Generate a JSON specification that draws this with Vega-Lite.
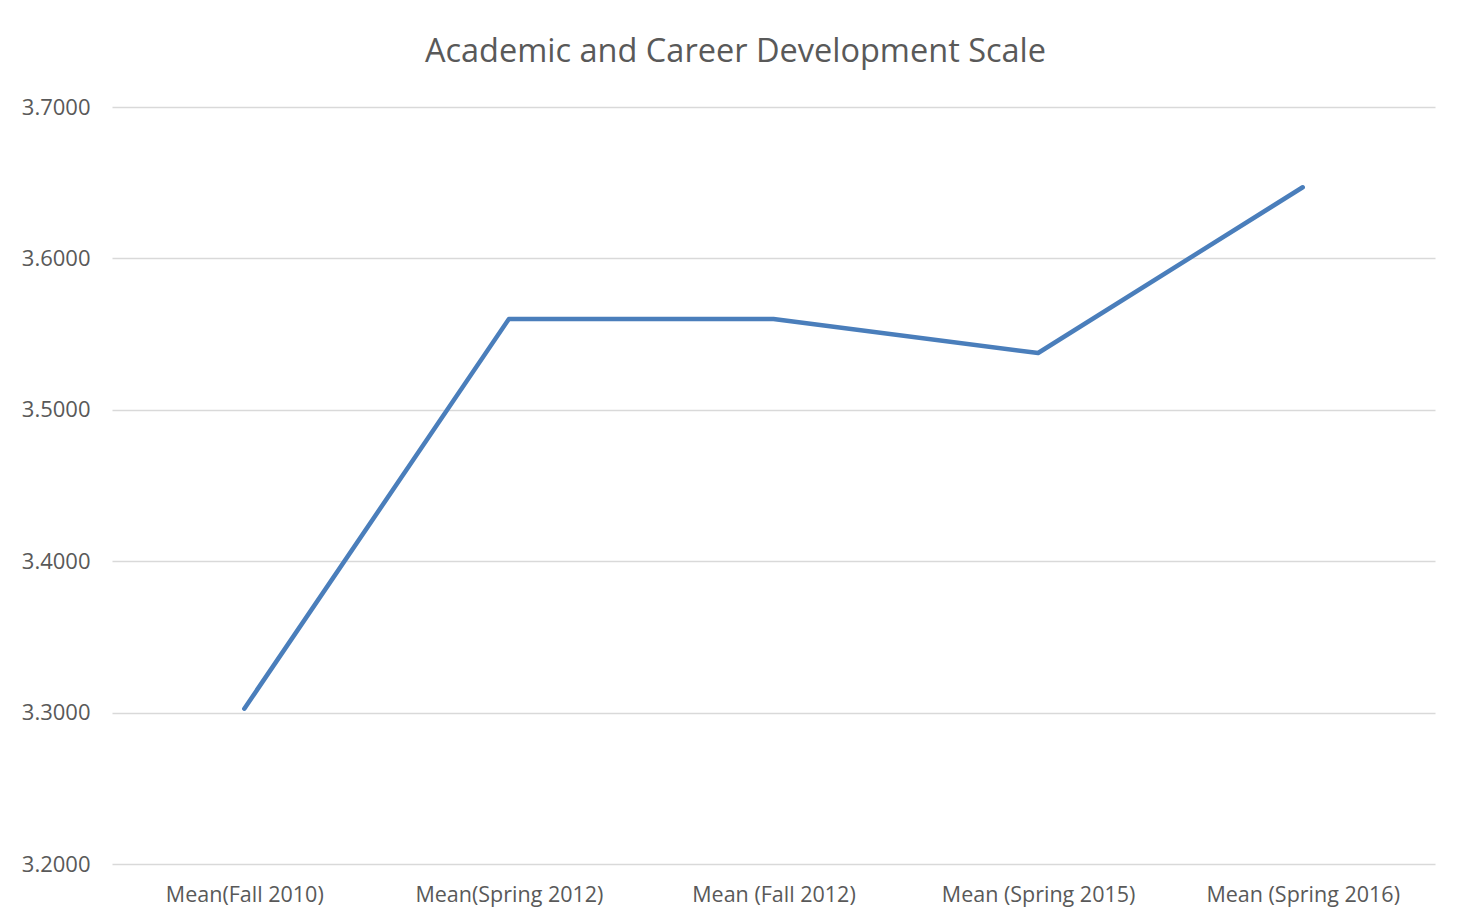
{
  "$schema": "https://vega.github.io/schema/vega-lite/v6.json",
  "width": 1323,
  "height": 757,
  "autosize": {"type": "none"},
  "padding": {"left": 112, "top": 107, "right": 37, "bottom": 56},
  "background": "white",
  "title": {
    "text": "Academic and Career Development Scale",
    "font": "Open Sans",
    "fontSize": 32.5,
    "fontWeight": "normal",
    "color": "#595959",
    "anchor": "middle",
    "dx": -38,
    "offset": 28
  },
  "data": {
    "values": [
      {"period": "Mean(Fall 2010)", "mean": 3.3026},
      {"period": "Mean(Spring 2012)", "mean": 3.5600},
      {"period": "Mean (Fall 2012)", "mean": 3.5600},
      {"period": "Mean (Spring 2015)", "mean": 3.5375},
      {"period": "Mean (Spring 2016)", "mean": 3.6470}
    ]
  },
  "mark": {"type": "line", "color": "#4A7EBB", "strokeWidth": 4.5, "strokeCap": "round", "strokeJoin": "round"},
  "encoding": {
    "x": {
      "field": "period",
      "type": "ordinal",
      "sort": null,
      "scale": {"type": "point", "padding": 0.5},
      "axis": {
        "title": null,
        "labelAngle": 0,
        "labelFont": "Open Sans",
        "labelFontSize": 21.5,
        "labelColor": "#595959",
        "labelPadding": 20,
        "labelLimit": 0,
        "ticks": false,
        "domain": false,
        "grid": false
      }
    },
    "y": {
      "field": "mean",
      "type": "quantitative",
      "scale": {"domain": [3.2, 3.7], "nice": false, "zero": false},
      "axis": {
        "title": null,
        "values": [3.2, 3.3, 3.4, 3.5, 3.6, 3.7],
        "format": ".4f",
        "labelFont": "Open Sans",
        "labelFontSize": 22,
        "labelColor": "#595959",
        "labelPadding": 22,
        "ticks": false,
        "domain": false,
        "grid": true,
        "gridColor": "#D9D9D9",
        "gridWidth": 1.5
      }
    }
  },
  "config": {"view": {"stroke": null}}
}
